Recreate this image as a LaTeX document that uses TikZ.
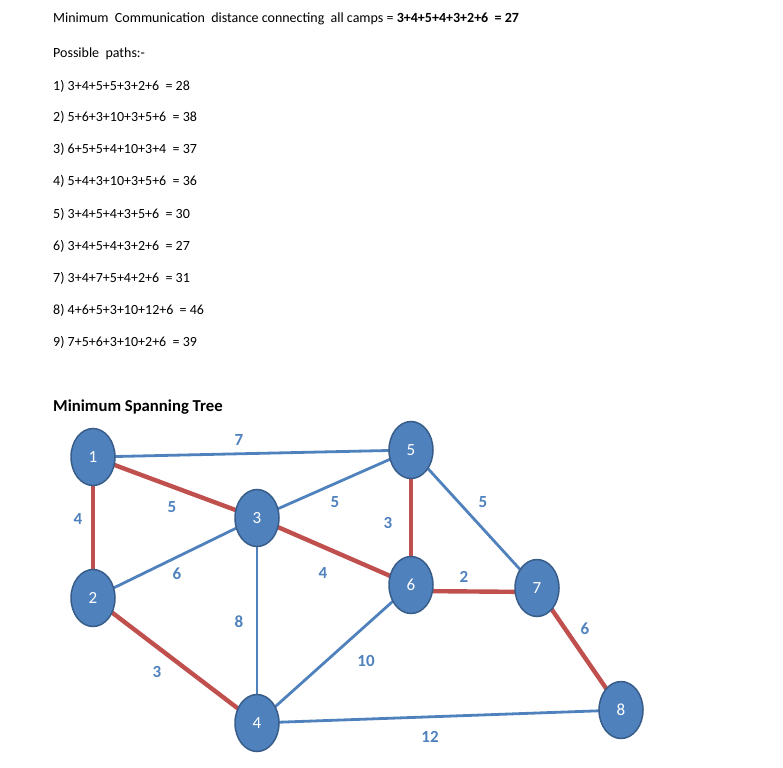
\documentclass[tikz,border=0pt]{standalone}
\usepackage{fontspec}
\setmainfont{Carlito}
\usepackage{xcolor}
\definecolor{campfill}{HTML}{4F81BD}
\definecolor{campline}{HTML}{385D8A}
\definecolor{mstred}{HTML}{C0504D}
\usetikzlibrary{positioning,shapes.geometric,backgrounds}
\tikzset{
  pathtext/.style={anchor=west,inner sep=0pt,font=\fontsize{14}{16}\selectfont},
  treehead/.style={anchor=west,inner sep=0pt,font=\fontsize{16.7}{19}\selectfont\bfseries},
  camp/.style={ellipse,draw=campline,line width=1.5pt,fill=campfill,minimum width=44pt,minimum height=57pt,inner sep=0pt,text=white,font=\fontsize{17}{19}\selectfont},
  mstedge/.style={draw=mstred,line width=4.4pt},
  otheredge/.style={draw=campfill,line width=2.8pt},
  weight/.style={text=campfill,font=\fontsize{17}{19}\selectfont\bfseries,inner sep=1pt},
}
\begin{document}
\begin{tikzpicture}[x=1pt,y=-1pt]
\useasboundingbox (0,0) rectangle (783,767);
% text above the tree
\node[pathtext] (hd) at (53,19) {Minimum\ \ Communication\ \ distance connecting\ \ all camps = \textbf{3+4+5+4+3+2+6\ \ = 27}};
\node[pathtext] (pp) at (53,54) {Possible\ \ paths:-};
\node[pathtext] (p1) at (53,86) {1) 3+4+5+5+3+2+6\ \ = 28};
\node[pathtext] (p2) at (53,117) {2) 5+6+3+10+3+5+6\ \ = 38};
\node[pathtext] (p3) at (53,149) {3) 6+5+5+4+10+3+4\ \ = 37};
\node[pathtext] (p4) at (53,181) {4) 5+4+3+10+3+5+6\ \ = 36};
\node[pathtext] (p5) at (53,214) {5) 3+4+5+4+3+5+6\ \ = 30};
\node[pathtext] (p6) at (53,246) {6) 3+4+5+4+3+2+6\ \ = 27};
\node[pathtext] (p7) at (53,278) {7) 3+4+7+5+4+2+6\ \ = 31};
\node[pathtext] (p8) at (53,310) {8) 4+6+5+3+10+12+6\ \ = 46};
\node[pathtext] (p9) at (53,342) {9) 7+5+6+3+10+2+6\ \ = 39};
\node[treehead] (mst) at (53,407) {Minimum Spanning Tree};
% camps
\node[camp] (c1) at (93,457) {1};
\node[camp] (c2) at (93,598) {2};
\node[camp] (c3) at (257,518) {3};
\node[camp] (c4) at (257,723) {4};
\node[camp] (c5) at (411,450) {5};
\node[camp] (c6) at (411,585) {6};
\node[camp] (c7) at (537,588) {7};
\node[camp] (c8) at (621,710) {8};
% links
\begin{scope}[on background layer]
\draw[otheredge](c1.center)--(c5.center);
\draw[mstedge](c1.center)--(c3.center);
\draw[mstedge](c1.center)--(c2.center);
\draw[otheredge](c3.center)--(c5.center);
\draw[otheredge](c3.center)--(c2.center);
\draw[mstedge](c3.center)--(c6.center);
\draw[otheredge](c3.center)--(c4.center);
\draw[mstedge](c5.center)--(c6.center);
\draw[otheredge](c5.center)--(c7.center);
\draw[mstedge]([yshift=-6pt]c6.center)--([yshift=-4pt]c7.center);
\draw[otheredge](c6.center)--(c4.center);
\draw[mstedge](c2.center)--(c4.center);
\draw[mstedge](c7.center)--(c8.center);
\draw[otheredge](c4.center)--(c8.center);
\end{scope}
% weights
\node[weight] (w15) at (239,440) {7};
\node[weight] (w13) at (172,507) {5};
\node[weight] (w12) at (78,519) {4};
\node[weight] (w35) at (335,502) {5};
\node[weight] (w56) at (388,523) {3};
\node[weight] (w57) at (483,502) {5};
\node[weight] (w32) at (177,574) {6};
\node[weight] (w36) at (323,573) {4};
\node[weight] (w67) at (464,577) {2};
\node[weight] (w34) at (239,622) {8};
\node[weight] (w24) at (157,672) {3};
\node[weight] (w64) at (366,661) {10};
\node[weight] (w78) at (585,629) {6};
\node[weight] (w48) at (430,737) {12};
\end{tikzpicture}
\end{document}
